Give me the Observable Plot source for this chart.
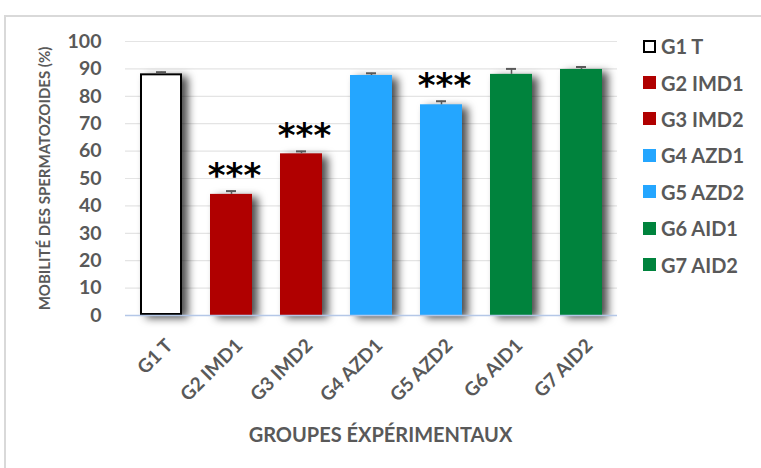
<!DOCTYPE html>
<html>
<head>
<meta charset="utf-8">
<script src="https://cdn.jsdelivr.net/npm/d3@7"></script>
<script src="https://cdn.jsdelivr.net/npm/@observablehq/plot@0.6"></script>
<style>
  body { margin: 0; background: #fff; }
  #wrap { position: relative; width: 761px; height: 468px; overflow: hidden; font-family: Lato, sans-serif; }
  #frame { position: absolute; left: 4px; top: 15px; width: 800px; height: 520px; border: 2px solid #d9d9d9; pointer-events: none; }
  #legend { position: absolute; left: 643px; top: 28px; }
  .item { display: flex; align-items: center; height: 36.4px; font-weight: 700; font-size: 20px; color: #595959; white-space: nowrap; }
  .sw { width: 13px; height: 13px; margin-right: 5px; box-sizing: border-box; }
</style>
</head>
<body>
<div id="wrap">
  <div id="chart"></div>
  <div id="legend"></div>
  <div id="frame"></div>
</div>
<script>
// Sperm motility (%) per experimental group, mean with upper error bar
const groups = ["G1 T", "G2 IMD1", "G3 IMD2", "G4 AZD1", "G5 AZD2", "G6 AID1", "G7 AID2"];
const motility = [88.2, 44.2, 59.0, 87.6, 76.9, 88.0, 89.8];
const errors = [0.6, 1.2, 0.9, 0.8, 1.3, 2.0, 0.9];
const significance = ["", "***", "***", "", "***", "", ""];
const yTicks = [0, 10, 20, 30, 40, 50, 60, 70, 80, 90, 100];
const groupColors = ["#ffffff", "#b00000", "#b00000", "#24a6ff", "#24a6ff", "#00833d", "#00833d"];

const rows = groups.map((g, i) => ({
  group: g,
  value: motility[i],
  top: motility[i] + errors[i],
  stars: significance[i]
}));

const chart = Plot.plot({
  width: 761,
  height: 468,
  marginLeft: 125,
  marginRight: 144,
  marginTop: 41,
  marginBottom: 153,
  style: { fontFamily: "Lato, sans-serif", background: "transparent", overflow: "visible" },
  x: { domain: groups, paddingInner: 0.4, paddingOuter: 0.2, label: null },
  y: { domain: [0, 100], label: null },
  color: { domain: groups, range: groupColors },
  marks: [
    Plot.ruleY(yTicks.filter(t => t > 0), { stroke: "#e4e4e4", strokeWidth: 1.2 }),
    Plot.barY(rows, {
      x: "group", y: "value", fill: "group",
      imageFilter: "drop-shadow(6px 3px 4px rgba(0,0,0,0.7))"
    }),
    Plot.barY(rows.filter(d => d.group === "G1 T"), {
      x: "group", y: "value", fill: "none", stroke: "#000", strokeWidth: 2, inset: 1
    }),
    Plot.ruleY([0], { stroke: "#b4c7e7", strokeWidth: 1.5 }),
    // upper error bars
    Plot.ruleX(rows, { x: "group", y1: "value", y2: "top", stroke: "#595959", strokeWidth: 1.5 }),
    Plot.tickY(rows, { x: "group", y: "top", stroke: "#595959", strokeWidth: 2, inset: 16 }),
    Plot.text(rows.filter(d => d.stars), {
      x: "group", y: "top", text: "stars", lineAnchor: "bottom", dy: -4, dx: 3,
      fontSize: 34, fontWeight: 700, fill: "#000", fontFamily: "DejaVu Sans"
    }),
    Plot.axisY({
      ticks: yTicks, tickSize: 0, tickPadding: 24, label: null,
      fontSize: 19.5, fontWeight: 700, fill: "#595959"
    }),
    Plot.axisX({
      tickSize: 0, tickRotate: -45, tickPadding: 27, label: null,
      fontSize: 19, fontWeight: 700, fill: "#595959", dx: 8
    }),
    Plot.text(["MOBILITÉ DES SPERMATOZOIDES (%)"], {
      frameAnchor: "left", textAnchor: "middle", dx: -80, rotate: -90,
      fontSize: 15, fontWeight: 700, fill: "#595959"
    }),
    Plot.text(["GROUPES ÉXPÉRIMENTAUX"], {
      frameAnchor: "bottom", dy: 126, dx: 9,
      fontSize: 20, fontWeight: 700, fill: "#595959"
    })
  ]
});
document.getElementById("chart").appendChild(chart);

// legend: one entry per group
const legend = d3.select("#legend");
groups.forEach((g, i) => {
  const item = legend.append("div").attr("class", "item");
  item.append("div").attr("class", "sw")
    .style("background", groupColors[i])
    .style("border", g === "G1 T" ? "2px solid #000" : "none");
  item.append("span").text(g);
});
</script>
</body>
</html>
